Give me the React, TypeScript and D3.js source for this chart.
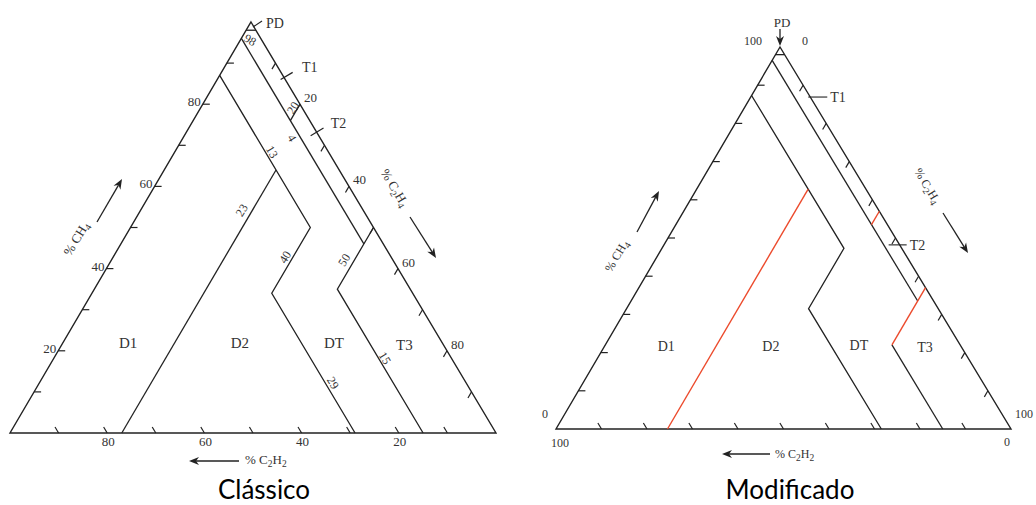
import React from 'react';
import * as d3 from 'd3';

// ternary point: [%C2H4, %C2H2]; %CH4 = 100 - both
type TP = [number, number];

// ---------------- data ----------------
const TICK_VALUES = [10, 20, 30, 40, 50, 60, 70, 80, 90];
const CLASSIC_TICK_LABELS = [20, 40, 60, 80];

const ZONE_NAMES = ['D1', 'D2', 'DT', 'T3'];
const ZONE_POS: TP[] = [[13.5, 64.7], [36.5, 41.7], [55.8, 22.3], [70.5, 8.0]];

// classic Duval triangle boundaries
const classicLines: TP[][] = [
  [[0, 2], [2, 0]],                         // CH4 = 98 (PD)
  [[0, 4], [50, 4]],                        // C2H2 = 4
  [[20, 0], [20, 4]],                       // C2H4 = 20
  [[50, 0], [50, 15], [85, 15]],            // C2H4 = 50, C2H2 = 15
  [[0, 13], [37, 13], [37, 29], [71, 29]],  // C2H2 = 13, C2H4 = 40, C2H2 = 29
  [[23, 13], [23, 77]],                     // C2H4 = 23
];
const classicLineLabels = ['98', '20', '4', '13', '23', '40', '50', '15', '29'];
const classicLineLabelPos: TP[] = [
  [2, 2.4], [19, 1.9], [22.4, 5.8], [20, 11.6], [20.8, 25], [35.4, 21.8], [47.9, 10], [68.1, 13.7], [60.4, 27.4],
];
const classicLineLabelRot = [30, -59, 59, 59, -59, -59, -59, 59, 59];
const classicLeaderC2H4 = [13.5, 26.8]; // T1, T2 leaders on C2H4 side
const LEADER_NAMES = ['T1', 'T2'];

// modified triangle boundaries
const modBlackLines: TP[][] = [
  [[0, 2], [2, 0]],
  [[0, 3.5], [63, 3.5]],
  [[63, 15], [85, 15]],
  [[0, 12.7], [40, 12.7], [40, 28.5], [71.5, 28.5]],
];
const modRedLines: TP[][] = [
  [[43, 0], [43, 3.5]],
  [[63, 0], [63, 15]],
  [[24.5, 12.7], [24.5, 75.5]],
];
const modLeaderC2H4 = [13.1, 51.8];

// ---------------- geometry ----------------
type Tri = { A: [number, number]; L: [number, number]; R: [number, number] };
const classicTri: Tri = { A: [251, 22], L: [10, 433], R: [496, 433] };
const modTri: Tri = { A: [780, 47], L: [556, 429], R: [1011, 429] };

function projector(t: Tri) {
  const ch4X = d3.scaleLinear().domain([0, 100]).range([0, t.A[0] - t.L[0]]);
  const c2h4X = d3.scaleLinear().domain([0, 100]).range([0, t.R[0] - t.L[0]]);
  const ch4Y = d3.scaleLinear().domain([0, 100]).range([t.L[1], t.A[1]]);
  return (p: TP): [number, number] => {
    const ch4 = 100 - p[0] - p[1];
    return [t.L[0] + ch4X(ch4) + c2h4X(p[0]), ch4Y(ch4)];
  };
}

const INK = '#222';
const TXT = '#333';
const RED = '#ec4a2c';
const SERIF = '"Liberation Serif", "DejaVu Serif", serif';

function Arrow({ x1, y1, x2, y2 }: { x1: number; y1: number; x2: number; y2: number }) {
  const a = Math.atan2(y2 - y1, x2 - x1);
  const hl = 10, hw = 4;
  const bx = x2 - hl * Math.cos(a), by = y2 - hl * Math.sin(a);
  const nx = x2 - hl * 0.7 * Math.cos(a), ny = y2 - hl * 0.7 * Math.sin(a);
  const px = -Math.sin(a), py = Math.cos(a);
  const pts = [
    [x2, y2],
    [bx + px * hw, by + py * hw],
    [nx, ny],
    [bx - px * hw, by - py * hw],
  ].map((p) => p.join(',')).join(' ');
  return (
    <g>
      <line x1={x1} y1={y1} x2={nx} y2={ny} stroke={INK} strokeWidth={1.3} />
      <polygon points={pts} fill={INK} />
    </g>
  );
}

function Formula({ parts, ...rest }: any) {
  let prevSub = false;
  return (
    <text {...rest}>
      {parts.map(([s, sub]: [string, boolean], i: number) => {
        const dy = sub && !prevSub ? 3 : !sub && prevSub ? -3 : 0;
        prevSub = sub;
        return (
          <tspan key={i} dy={dy} fontSize={sub ? 9.5 : undefined}>{s}</tspan>
        );
      })}
    </text>
  );
}

const CH4_PARTS = [['% CH', false], ['4', true]];
const C2H4_PARTS = [['% C', false], ['2', true], ['H', false], ['4', true]];
const C2H2_PARTS = [['% C', false], ['2', true], ['H', false], ['2', true]];

function Ticks({ tri, proj }: { tri: Tri; proj: (p: TP) => [number, number] }) {
  const len = 7;
  const rDir = [tri.A[0] - tri.R[0], tri.A[1] - tri.R[1]];
  const rn = Math.hypot(rDir[0], rDir[1]);
  const lDir = [tri.L[0] - tri.A[0], tri.L[1] - tri.A[1]];
  const ln = Math.hypot(lDir[0], lDir[1]);
  return (
    <g stroke={INK} strokeWidth={1.2}>
      {TICK_VALUES.map((v) => {
        const p = proj([0, 100 - v]);
        return <line key={'l' + v} x1={p[0]} y1={p[1]} x2={p[0] + len} y2={p[1]} />;
      })}
      {TICK_VALUES.map((v) => {
        const p = proj([100 - v, v]);
        return <line key={'b' + v} x1={p[0]} y1={p[1]} x2={p[0] + (rDir[0] / rn) * len} y2={p[1] + (rDir[1] / rn) * len} />;
      })}
      {TICK_VALUES.map((v) => {
        const p = proj([v, 0]);
        return <line key={'r' + v} x1={p[0]} y1={p[1]} x2={p[0] + (lDir[0] / ln) * len} y2={p[1] + (lDir[1] / ln) * len} />;
      })}
    </g>
  );
}

export default function App() {
  const pc = projector(classicTri);
  const pm = projector(modTri);
  const line = d3.line<[number, number]>();
  const tri = (t: Tri) => line([t.A, t.R, t.L]) + 'Z';

  const rightEdgeNormal = (t: Tri) => {
    const dx = t.R[0] - t.A[0], dy = t.R[1] - t.A[1];
    const n = Math.hypot(dx, dy);
    return [dy / n, -dx / n];
  };
  const cn = rightEdgeNormal(classicTri);

  return (
    <svg width={1036} height={505} style={{ position: 'absolute', left: 0, top: 0, background: '#fff' }}
      fontFamily={SERIF}>
      {/* ============ CLASSIC ============ */}
      <g>
        <path d={tri(classicTri)} fill="none" stroke={INK} strokeWidth={1.4} strokeLinejoin="miter" />
        <Ticks tri={classicTri} proj={pc} />
        {classicLines.map((ls, i) => (
          <path key={i} d={line(ls.map(pc)) || ''} fill="none" stroke={INK} strokeWidth={1.3} />
        ))}
        {classicLineLabels.map((s, i) => {
          const p = pc(classicLineLabelPos[i]);
          return (
            <text key={i} x={p[0]} y={p[1]} fontSize={12} fill={TXT} textAnchor="middle" dominantBaseline="central"
              transform={`rotate(${classicLineLabelRot[i]},${p[0]},${p[1]})`}>{s}</text>
          );
        })}
        {CLASSIC_TICK_LABELS.map((v) => {
          const p = pc([0, 100 - v]);
          return <text key={'lt' + v} x={p[0] - 2} y={p[1] + 2} fontSize={13} fill={TXT} textAnchor="end">{v}</text>;
        })}
        {CLASSIC_TICK_LABELS.map((v) => {
          const p = pc([100 - v, v]);
          return <text key={'bt' + v} x={p[0] + 1} y={p[1] + 13} fontSize={13} fill={TXT} textAnchor="middle">{v}</text>;
        })}
        {CLASSIC_TICK_LABELS.map((v) => {
          const p = pc([v, 0]);
          return <text key={'rt' + v} x={p[0] + 4} y={p[1] - 2} fontSize={13} fill={TXT}>{v}</text>;
        })}
        {ZONE_NAMES.map((z, i) => {
          const p = pc(ZONE_POS[i]);
          return <text key={z} x={p[0]} y={p[1] + 5} fontSize={15} fill={TXT} textAnchor="middle">{z}</text>;
        })}
        {LEADER_NAMES.map((n, i) => {
          const p = pc([classicLeaderC2H4[i], 0]);
          const a = i === 0 ? -4 : -7, b = i === 0 ? 10 : 8;
          return (
            <g key={n}>
              <line x1={p[0] + cn[0] * a} y1={p[1] + cn[1] * a} x2={p[0] + cn[0] * b} y2={p[1] + cn[1] * b} stroke={INK} strokeWidth={1.2} />
              <text x={p[0] + (i === 0 ? 18 : 14)} y={p[1] + (i === 0 ? -5.5 : -4)} fontSize={14} fill={TXT}>{n}</text>
            </g>
          );
        })}
        <line x1={classicTri.A[0] + 2} y1={classicTri.A[1] + 5} x2={classicTri.A[0] + 11} y2={classicTri.A[1] - 1} stroke={INK} strokeWidth={1.1} />
        <text x={classicTri.A[0] + 15} y={classicTri.A[1] + 6} fontSize={14} fill={TXT}>PD</text>
        <Formula parts={CH4_PARTS} x={0} y={0} fontSize={13} fill={TXT} textAnchor="middle"
          transform={`translate(80,241) rotate(-59)`} />
        <Arrow x1={97} y1={222} x2={122} y2={179} />
        <Formula parts={C2H4_PARTS} x={0} y={0} fontSize={13} fill={TXT} textAnchor="middle"
          transform={`translate(391,190) rotate(59)`} />
        <Arrow x1={410} y1={217} x2={436} y2={258} />
        <Formula parts={C2H2_PARTS} x={245} y={464} fontSize={13} fill={TXT} />
        <Arrow x1={239} y1={461} x2={189} y2={461} />
        <text x={264} y={499} fontFamily="Lato, 'Open Sans', sans-serif" fontSize={26} fill="#000" textAnchor="middle">Clássico</text>
      </g>

      {/* ============ MODIFICADO ============ */}
      <g>
        <path d={tri(modTri)} fill="none" stroke={INK} strokeWidth={1.4} />
        <Ticks tri={modTri} proj={pm} />
        {modBlackLines.map((ls, i) => (
          <path key={i} d={line(ls.map(pm)) || ''} fill="none" stroke={INK} strokeWidth={1.3} />
        ))}
        {modRedLines.map((ls, i) => (
          <path key={i} d={line(ls.map(pm)) || ''} fill="none" stroke={RED} strokeWidth={1.4} />
        ))}
        {ZONE_NAMES.map((z, i) => {
          const p = pm(ZONE_POS[i]);
          return <text key={z} x={p[0]} y={p[1] + 5} fontSize={14} fill={TXT} textAnchor="middle">{z}</text>;
        })}
        {LEADER_NAMES.map((n, i) => {
          const p = pm([modLeaderC2H4[i], 0]);
          const a = i === 0 ? -2 : -11, b = i === 0 ? 17 : 7;
          return (
            <g key={n}>
              <line x1={p[0] + a} y1={p[1]} x2={p[0] + b} y2={p[1]} stroke={INK} strokeWidth={1.1} />
              <text x={p[0] + b + 3} y={p[1] + 5} fontSize={14} fill={TXT}>{n}</text>
            </g>
          );
        })}
        <text x={modTri.A[0] - 27} y={modTri.A[1] - 2} fontSize={12} fill={TXT} textAnchor="middle">100</text>
        <text x={modTri.A[0] + 25} y={modTri.A[1] - 2} fontSize={12} fill={TXT} textAnchor="middle">0</text>
        <text x={modTri.L[0] - 11} y={modTri.L[1] - 11} fontSize={12} fill={TXT} textAnchor="middle">0</text>
        <text x={modTri.L[0] + 4} y={modTri.L[1] + 18} fontSize={12} fill={TXT} textAnchor="middle">100</text>
        <text x={modTri.R[0] + 13} y={modTri.R[1] - 11} fontSize={12} fill={TXT} textAnchor="middle">100</text>
        <text x={modTri.R[0] - 4} y={modTri.R[1] + 17} fontSize={12} fill={TXT} textAnchor="middle">0</text>
        <text x={modTri.A[0] + 2} y={modTri.A[1] - 20} fontSize={13} fill={TXT} textAnchor="middle">PD</text>
        <Arrow x1={modTri.A[0]} y1={modTri.A[1] - 18} x2={modTri.A[0]} y2={modTri.A[1] - 1} />
        <Formula parts={CH4_PARTS} x={0} y={0} fontSize={12} fill={TXT} textAnchor="middle"
          transform={`translate(620,258) rotate(-59)`} />
        <Arrow x1={637} y1={232} x2={659} y2={191} />
        <Formula parts={C2H4_PARTS} x={0} y={0} fontSize={12} fill={TXT} textAnchor="middle"
          transform={`translate(924,188) rotate(59)`} />
        <Arrow x1={943} y1={213} x2={968} y2={253} />
        <Formula parts={C2H2_PARTS} x={775} y={458} fontSize={12} fill={TXT} />
        <Arrow x1={770} y1={454} x2={722} y2={454} />
        <text x={790} y={499} fontFamily="Lato, 'Open Sans', sans-serif" fontSize={26} fill="#000" textAnchor="middle">Modificado</text>
      </g>
    </svg>
  );
}
